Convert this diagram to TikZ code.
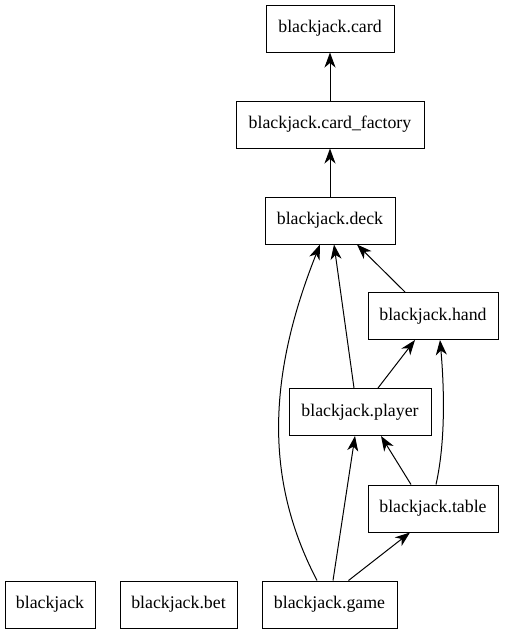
\documentclass[tikz,border=0pt]{standalone}
\usepackage{fontspec}
\setmainfont{Liberation Serif}
\usetikzlibrary{arrows.meta}
\tikzset{
  modbox/.style={draw,line width=1pt,minimum height=47pt,inner sep=0pt,font=\fontsize{17.8}{20}\selectfont},
  dep/.style={line width=1pt,-{Stealth[length=15pt,width=11pt,inset=4.5pt]}}
}
\begin{document}
\begin{tikzpicture}[x=1pt,y=-1pt]
\useasboundingbox (0,0) rectangle (504,635);
\node[modbox,minimum width=128pt] (card) at (330,28.5) {blackjack.card};
\node[modbox,minimum width=188pt] (factory) at (330,124.5) {blackjack.card\_factory};
\node[modbox,minimum width=130pt] (deck) at (330,220.5) {blackjack.deck};
\node[modbox,minimum width=130pt] (hand) at (433,316) {blackjack.hand};
\node[modbox,minimum width=142pt] (player) at (360,412) {blackjack.player};
\node[modbox,minimum width=130pt] (table) at (433,508.5) {blackjack.table};
\node[modbox,minimum width=90pt] (pkg) at (50,604.5) {blackjack};
\node[modbox,minimum width=117pt] (bet) at (178.5,604.5) {blackjack.bet};
\node[modbox,minimum width=135pt] (game) at (329.5,604.5) {blackjack.game};
\draw[dep] (factory) -- (card);
\draw[dep] (deck) -- (factory);
\draw[dep] ([xshift=-28pt]hand.north) -- ([xshift=27pt]deck.south);
\draw[dep] ([xshift=-6pt]player.north) -- ([xshift=4pt]deck.south);
\draw[dep] ([xshift=18pt]player.north) -- ([xshift=-18pt]hand.south);
\draw[dep] ([xshift=-22pt]table.north) -- ([xshift=21pt]player.south);
\draw[dep] ([xshift=3pt]table.north) .. controls (446,440) and (444,385) .. ([xshift=7pt]hand.south);
\draw[dep] ([xshift=-12.5pt]game.north) .. controls (270,490) and (262,390) .. ([xshift=-10pt]deck.south);
\draw[dep] ([xshift=3.5pt]game.north) -- ([xshift=-5pt]player.south);
\draw[dep] ([xshift=19pt]game.north) -- ([xshift=-23pt]table.south);
\end{tikzpicture}
\end{document}
